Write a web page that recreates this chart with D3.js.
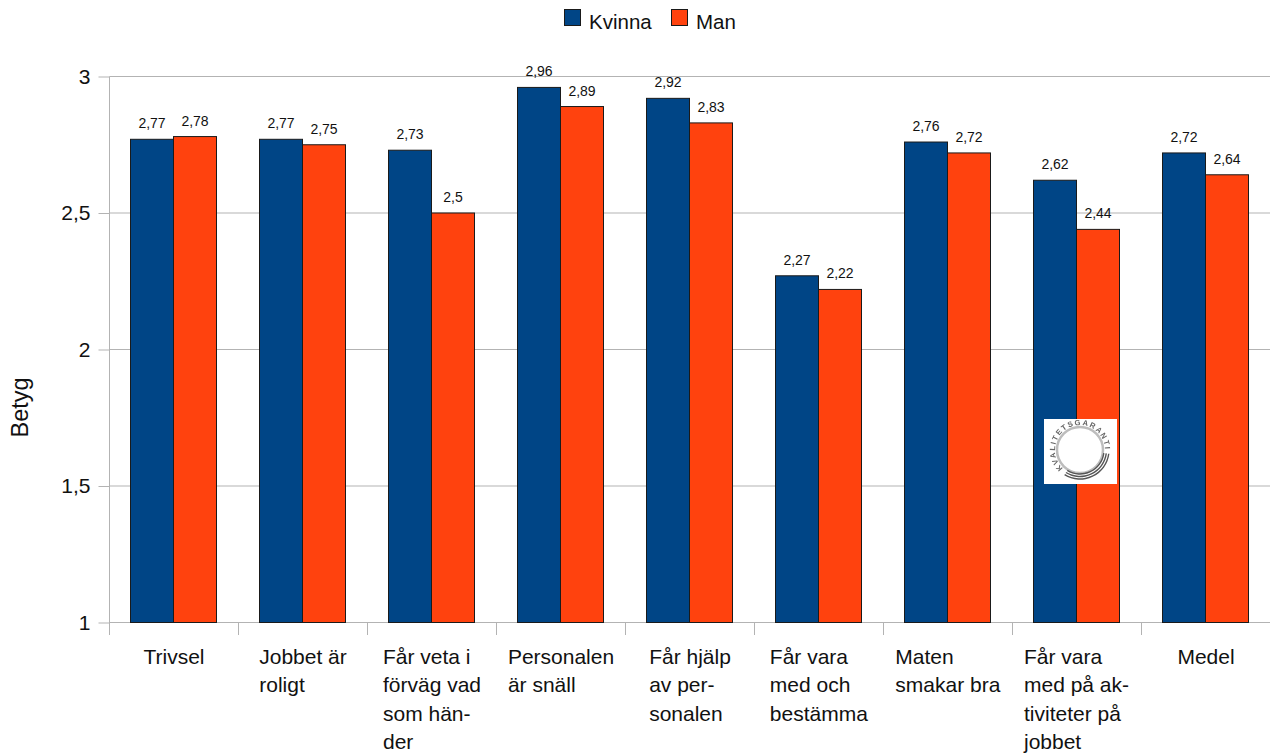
<!DOCTYPE html>
<html><head><meta charset="utf-8">
<script src="https://cdn.jsdelivr.net/npm/d3@7/dist/d3.min.js"></script>
<style>html,body{margin:0;padding:0;background:#fff}svg{display:block}text{font-family:"Liberation Sans",Arial,sans-serif;fill:#111}</style>
</head><body><svg id="c" width="1270" height="755"></svg>
<script>
const categories=[["Trivsel"],["Jobbet är","roligt"],["Får veta i","förväg vad","som hän-","der"],["Personalen","är snäll"],["Får hjälp","av per-","sonalen"],["Får vara","med och","bestämma"],["Maten","smakar bra"],["Får vara","med på ak-","tiviteter på","jobbet"],["Medel"]];
const kvinna=[2.77,2.77,2.73,2.96,2.92,2.27,2.76,2.62,2.72];
const man=[2.78,2.75,2.5,2.89,2.83,2.22,2.72,2.44,2.64];
const seriesNames=["Kvinna","Man"];
const seriesColors=["#004586","#ff420e"];
const yTicks=[1,1.5,2,2.5,3];
const fmt=v=>String(v).replace(".",",");
const svg=d3.select("#c");
const x=d3.scaleBand().domain(d3.range(categories.length)).range([109.5,1270.5]);
const y=d3.scaleLinear().domain([1,3]).range([622.5,76.5]);
const inner=d3.scaleBand().domain([0,1]).range([21,107]);
const grid="#b3b3b3";
const ya=svg.append("g").attr("transform","translate(109.5,0)").call(d3.axisLeft(y).tickValues(yTicks).tickSize(11).tickSizeOuter(0).tickFormat(fmt));
ya.select(".domain").attr("stroke",grid).attr("d","M0,76.5V635");
ya.selectAll(".tick line").attr("stroke",grid);
ya.selectAll(".tick text").attr("x",-19).style("font-family",'"Liberation Sans",Arial,sans-serif').attr("font-size",21).attr("fill","#111");
svg.append("g").selectAll("line").data(yTicks).join("line").attr("x1",109.5).attr("x2",1270).attr("y1",d=>y(d)).attr("y2",d=>y(d)).attr("stroke",grid);
svg.append("g").selectAll("line").data(d3.range(1,categories.length+1)).join("line")
 .attr("x1",d=>109.5+d*x.bandwidth()).attr("x2",d=>109.5+d*x.bandwidth()).attr("y1",622.5).attr("y2",635).attr("stroke",grid);
[kvinna,man].forEach((vals,s)=>{
 const g=svg.append("g");
 g.selectAll("rect").data(vals).join("rect")
  .attr("x",(d,i)=>x(i)+inner(s)).attr("width",inner.bandwidth())
  .attr("y",d=>y(d)).attr("height",d=>y(1)-y(d))
  .attr("fill",seriesColors[s]).attr("stroke","#1a1a1a").attr("stroke-width",1);
 g.selectAll("text").data(vals).join("text")
  .attr("x",(d,i)=>x(i)+inner(s)+inner.bandwidth()/2).attr("y",d=>y(d)-11)
  .attr("text-anchor","middle").attr("font-size",14).text(fmt);
});
const cl=svg.append("g").selectAll("text").data(categories).join("text")
 .attr("font-size",21).attr("y",664);
cl.each(function(lines,i){
 const t=d3.select(this);
 t.selectAll("tspan").data(lines).join("tspan").attr("x",0).attr("dy",(d,j)=>j?28.4:0).text(d=>d);
 const bw=this.getBBox().width;
 t.selectAll("tspan").attr("x",x(i)+x.bandwidth()/2-bw/2);
});
svg.append("text").attr("transform","translate(28,407.5) rotate(-90)").attr("text-anchor","middle").attr("font-size",23.5).text("Betyg");
const lx=[564.5,671.5],ltx=[589,696];
seriesNames.forEach((n,i)=>{
 svg.append("rect").attr("x",lx[i]).attr("y",9.5).attr("width",16).attr("height",16).attr("fill",seriesColors[i]).attr("stroke","#1a1a1a");
 svg.append("text").attr("x",ltx[i]).attr("y",29).attr("font-size",20.5).text(n);
});
// quality seal
const seal=svg.append("g").attr("transform","translate(1044,419)");
seal.append("rect").attr("width",73).attr("height",65).attr("fill","#fff");
const defs=svg.append("defs");
defs.append("filter").attr("id","soft").append("feGaussianBlur").attr("stdDeviation",0.45);
const sealR=25,cx=36,cy=31,a0=-2.4,a1=1.62;
const pt=a=>[cx+sealR*Math.sin(a),cy-sealR*Math.cos(a)];
defs.append("path").attr("id","sealArc").attr("d",`M ${pt(a0)} A ${sealR},${sealR} 0 1 1 ${pt(a1)}`);
const s2=seal.append("g").attr("filter","url(#soft)");
s2.append("circle").attr("cx",cx).attr("cy",cy).attr("r",23).attr("fill","none").attr("stroke","#bdbdbd").attr("stroke-width",2.5);
[24,26.5,29].forEach(r=>{
 const arc=d3.arc().innerRadius(r-0.7).outerRadius(r+0.7).startAngle(1.7).endAngle(3.7);
 s2.append("path").attr("transform",`translate(${cx},${cy})`).attr("d",arc()).attr("fill","#555");
});
s2.append("text").attr("font-size",7.6).style("font-family",'"Liberation Sans",sans-serif').style("font-weight","bold").style("fill","#666")
 .append("textPath").attr("href","#sealArc").attr("textLength",98).text("KVALITETSGARANTI");
</script></body></html>
